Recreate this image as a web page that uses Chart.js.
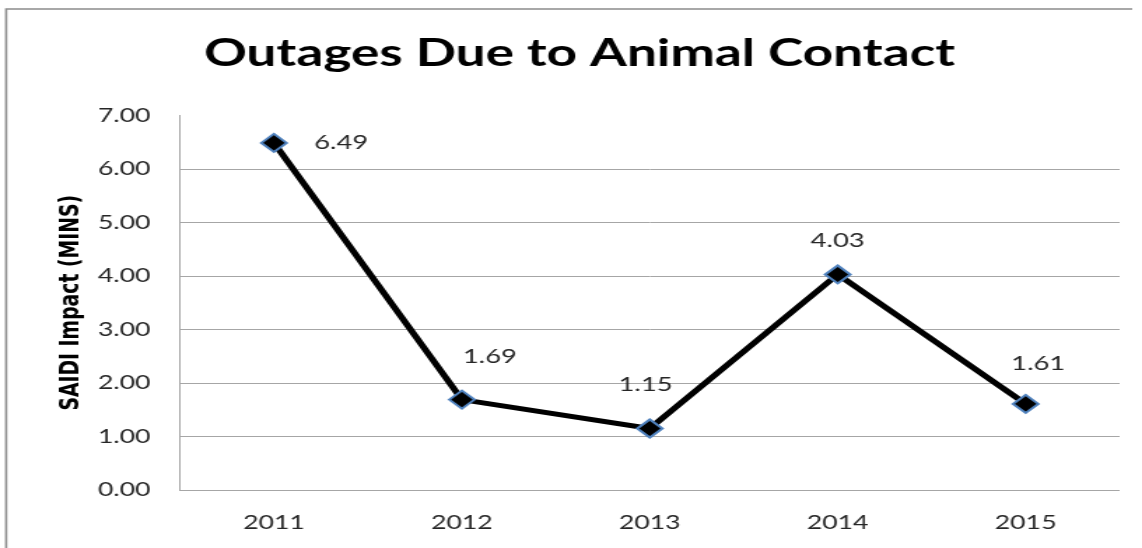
<!DOCTYPE html>
<html>
<head>
<meta charset="utf-8">
<script src="https://cdn.jsdelivr.net/npm/chart.js@4/dist/chart.umd.min.js"></script>
<style>
  html, body { margin: 0; padding: 0; background: #ffffff; overflow: hidden; }
  #wrap { width: 1142px; height: 548px; overflow: hidden; }
  /* the chart is drawn narrow and widened horizontally */
  #chart { display: block; transform-origin: 0 0; }
</style>
</head>
<body>
<div id="wrap"><canvas id="chart" width="816" height="548"></canvas></div>
<script>
const years = ['2011', '2012', '2013', '2014', '2015'];
const saidiMinutes = [6.49, 1.69, 1.15, 4.03, 1.61];
const yTicks = [0, 1, 2, 3, 4, 5, 6, 7];

const STRETCH = 1142 / 816;
const canvas = document.getElementById('chart');
canvas.style.width = '816px';
canvas.style.height = '548px';
canvas.style.transform = 'scaleX(' + STRETCH + ')';

// value label placement relative to each marker (dx, dy)
const labelPlacement = [[48, 0], [20, -43], [-3, -44], [0, -34], [9, -40]];

const frame = {
  id: 'frame',
  beforeDraw(chart) {
    const ctx = chart.ctx;
    ctx.save();
    ctx.strokeStyle = '#8c8c8c';
    ctx.lineWidth = 1.6;
    ctx.beginPath();
    ctx.moveTo(4.4, 548);
    ctx.lineTo(4.4, 9);
    ctx.lineTo(809, 9);
    ctx.stroke();
    ctx.restore();
  }
};

const valueLabels = {
  id: 'valueLabels',
  afterDatasetsDraw(chart) {
    const ctx = chart.ctx;
    const meta = chart.getDatasetMeta(0);
    ctx.save();
    ctx.font = '19.5px Lato';
    ctx.fillStyle = '#262626';
    ctx.textAlign = 'center';
    ctx.textBaseline = 'middle';
    meta.data.forEach((pt, i) => {
      const [dx, dy] = labelPlacement[i];
      ctx.fillText(saidiMinutes[i].toFixed(2), pt.x + dx, pt.y + dy);
    });
    ctx.restore();
  }
};

new Chart(canvas, {
  type: 'line',
  data: {
    labels: years,
    datasets: [{
      data: saidiMinutes,
      borderColor: '#000000',
      borderWidth: 5,
      tension: 0,
      pointStyle: 'rectRot',
      pointRadius: 9,
      pointHoverRadius: 9,
      pointBackgroundColor: '#000000',
      pointBorderColor: '#4f81bd',
      pointBorderWidth: 2
    }]
  },
  options: {
    responsive: false,
    animation: false,
    events: [],
    layout: { padding: { left: 28, right: 16, top: 0, bottom: 0 } },
    plugins: {
      legend: { display: false },
      tooltip: { enabled: false },
      title: {
        display: true,
        text: 'Outages Due to Animal Contact',
        color: '#000000',
        font: { family: 'Lato', size: 38, weight: 'bold' },
        padding: { top: 31, bottom: 39 }
      }
    },
    scales: {
      x: {
        offset: true,
        grid: { display: false, drawTicks: false },
        border: { display: false },
        ticks: {
          color: '#262626',
          font: { family: 'Lato', size: 19 },
          padding: 21
        },
        afterFit(scale) { scale.height = 58; }
      },
      y: {
        min: 0,
        max: 7,
        afterBuildTicks(scale) { scale.ticks = yTicks.map(v => ({ value: v })); },
        grid: {
          drawTicks: false,
          color: ctx => (ctx.tick && ctx.tick.value === 7 ? 'rgba(0,0,0,0)' : '#a6a6a6'),
          lineWidth: 1
        },
        border: { display: true, color: '#a6a6a6', width: 1 },
        ticks: {
          color: '#262626',
          font: { family: 'Lato', size: 19 },
          padding: 21,
          callback: v => Number(v).toFixed(2)
        },
        title: {
          display: true,
          text: 'SAIDI Impact (MINS)',
          color: '#000000',
          font: { family: 'DejaVu Sans', size: 18.8, weight: 'bold' },
          padding: { top: 12, bottom: 0 }
        },
        afterFit(scale) { scale.width = 100.6; }
      }
    }
  },
  plugins: [frame, valueLabels]
});
</script>
</body>
</html>
